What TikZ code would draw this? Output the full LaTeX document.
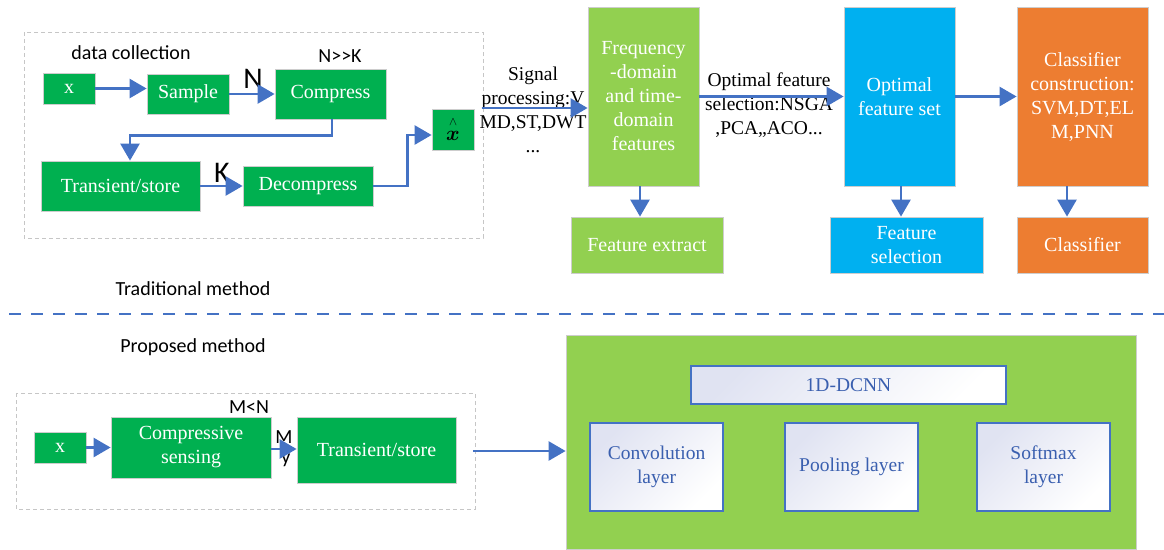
\documentclass[tikz,border=0pt]{standalone}
\usepackage{fontspec}
\usepackage{amsmath}
\setmainfont{Liberation Serif}
\newfontfamily\calibri{Carlito}
\usetikzlibrary{arrows.meta}

\definecolor{DarkGreenBox}{RGB}{0,176,80}
\definecolor{LightGreenBox}{RGB}{146,208,80}
\definecolor{CyanBox}{RGB}{0,176,240}
\definecolor{OrangeBox}{RGB}{237,125,49}
\definecolor{ArrowBlue}{RGB}{68,114,196}
\definecolor{LayerText}{RGB}{58,95,175}
\definecolor{LayerTop}{RGB}{224,227,242}
\definecolor{EdgeGray}{RGB}{205,205,205}

\begin{document}
\begin{tikzpicture}[x=1pt, y=-1pt,
    box/.style={draw=EdgeGray, line width=0.8pt, inner sep=0pt, align=center, text=white, font=\fontsize{20}{24}\selectfont},
    green/.style={box, fill=DarkGreenBox},
    lime/.style={box, fill=LightGreenBox},
    cyan/.style={box, fill=CyanBox},
    orange/.style={box, fill=OrangeBox},
    layer/.style={draw=ArrowBlue, line width=1.6pt, top color=LayerTop, bottom color=white, shading angle=45, inner sep=0pt, align=center, text=LayerText, font=\fontsize{19.5}{24}\selectfont},
    frame/.style={draw=gray!45, dashed, dash pattern=on 4pt off 3pt, line width=0.8pt},
    arr/.style={draw=ArrowBlue, line width=2.6pt, -{Triangle[length=17pt,width=19pt]}},
    lbl/.style={font=\calibri\fontsize{20}{23}\selectfont},
    big/.style={font=\calibri\fontsize{30}{30}\selectfont},
    note/.style={align=center, font=\fontsize{19.5}{24}\selectfont}
  ]
    \useasboundingbox (0,0) rectangle (1164,549);

    % Traditional method: data collection
    \draw[frame] (24,32) rectangle (483,238);
    \node[lbl] (datacoll) at (131,53) {data collection};
    \node[green, minimum width=52pt, minimum height=31pt] (x1) at (69,88.5) {x};
    \node[green, minimum width=82pt, minimum height=40pt] (sample) at (188,94) {Sample};
    \node[green, minimum width=111pt, minimum height=50pt] (compress) at (330.5,94) {Compress};
    \node[green, minimum width=159pt, minimum height=50pt] (trans1) at (120.5,186) {Transient/store};
    \node[green, minimum width=130pt, minimum height=40pt] (decomp) at (308,186) {Decompress};
    \node[green, text=black, minimum width=42pt, minimum height=41pt, font=\fontsize{21}{15}\selectfont] (xhat) at (453,129.5) {{\fontsize{13}{13}\selectfont$\wedge$}\\$\boldsymbol{x}$};
    \node[lbl] (nk) at (340,56) {N>>K};
    \node[big] (nlbl) at (253,79) {N};
    \node[big] (klbl) at (222,173) {K};

    \draw[arr] (x1.east) -- (x1.east -| sample.west);
    \draw[arr] (sample) -- (compress);
    \draw[arr] ([xshift=1.5pt]compress.south) -- ++(0,16) -| ([xshift=9.5pt]trans1.north);
    \draw[arr] (trans1) -- (decomp);
    \draw[arr] (decomp.east) -- ++(34,0) |- ([yshift=-5.5pt]xhat.west);

    % Traditional method: features and classifier
    \node[lime, minimum width=111pt, minimum height=179pt] (freq) at (643.5,96.5) {Frequency\\-domain\\and time-\\domain\\features};
    \node[lime, minimum width=152pt, minimum height=56pt] (featext) at (647,245) {Feature extract};
    \node[cyan, minimum width=111pt, minimum height=179pt] (optset) at (899.5,96.5) {Optimal\\feature set};
    \node[cyan, minimum width=153pt, minimum height=56pt] (featsel) at (906.5,245) {Feature\\selection};
    \node[orange, minimum width=131pt, minimum height=179pt] (classcon) at (1082.5,96.5) {Classifier\\construction:\\SVM,DT,EL\\M,PNN};
    \node[orange, minimum width=131pt, minimum height=56pt] (classifier) at (1082.5,245) {Classifier};
    \node[note] (sigproc) at (533,110) {Signal\\processing:V\\MD,ST,DWT\\...};
    \node[note] (optsel) at (769,105) {Optimal feature\\selection:NSGA\\,PCA,,ACO...};

    \coordinate (sigstart) at (482,108);
    \draw[arr] (sigstart) -- (sigstart -| freq.west);
    \draw[arr] (freq) -- (optset);
    \draw[arr] (optset) -- (classcon);
    \draw[arr] ([xshift=-3.5pt]freq.south) -- ([xshift=-7pt]featext.north);
    \draw[arr] ([xshift=1.5pt]optset.south) -- ([xshift=-5.5pt]featsel.north);
    \draw[arr] ([xshift=-15.5pt]classcon.south) -- ([xshift=-15.5pt]classifier.north);

    % Separator
    \node[lbl] (trad) at (193,289) {Traditional method};
    \coordinate (sepleft) at (9,314);
    \coordinate (sepright) at (1164,314);
    \draw[ArrowBlue, line width=2pt, dash pattern=on 12pt off 10pt] (sepleft) -- (sepright);
    \node[lbl] (prop) at (193,347) {Proposed method};

    % Proposed method
    \draw[frame] (16,393) rectangle (475,509);
    \node[green, minimum width=52pt, minimum height=31pt] (x2) at (60,447.5) {x};
    \node[green, minimum width=160pt, minimum height=61pt] (cs) at (191,447.5) {Compressive\\sensing};
    \node[green, minimum width=159pt, minimum height=66pt] (trans2) at (376.5,450) {Transient/store};
    \node[lbl] (mn) at (249,407) {M<N};
    \node[lbl] (mlbl) at (284,437) {M};
    \node[lbl] (ylbl) at (286,460) {y};

    \draw[arr] (x2) -- (x2 -| cs.west);
    \draw[arr] ([yshift=-1.5pt]cs.east) -- ([yshift=-1.5pt]cs.east -| trans2.west);

    % 1D-DCNN
    \node[box, fill=LightGreenBox, minimum width=570pt, minimum height=214pt] (cnnbox) at (851,442) {};
    \node[layer, minimum width=315pt, minimum height=38pt] (dcnn) at (848.5,385) {1D-DCNN};
    \node[layer, minimum width=133pt, minimum height=88pt] (conv) at (656.5,467) {Convolution\\layer};
    \node[layer, minimum width=133pt, minimum height=88pt] (pool) at (851.5,467) {Pooling layer};
    \node[layer, minimum width=133pt, minimum height=88pt] (soft) at (1043.5,467) {Softmax\\layer};

    \coordinate (cnnstart) at (473,451);
    \draw[arr] (cnnstart) -- (cnnstart -| cnnbox.west);
  \end{tikzpicture}
\end{document}
